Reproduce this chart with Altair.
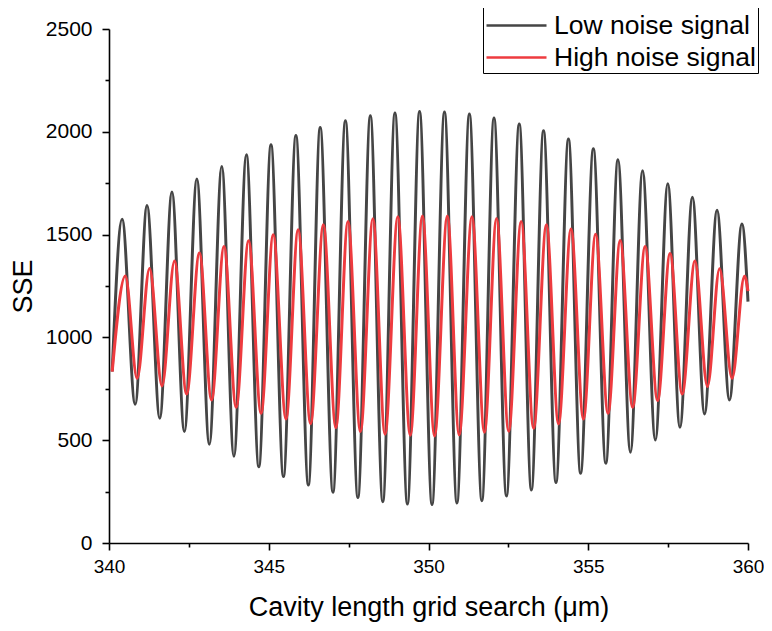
import altair as alt
import pandas as pd

# ---- data (extrema of each oscillation) ----
low_x = [340.10, 340.41, 340.82, 341.19, 341.59, 341.97, 342.36, 342.75, 343.14, 343.53,
         343.91, 344.30, 344.69, 345.07, 345.46, 345.85, 346.24, 346.61, 347.01, 347.40,
         347.79, 348.18, 348.57, 348.95, 349.34, 349.72, 350.11, 350.50, 350.89, 351.28,
         351.67, 352.05, 352.44, 352.84, 353.22, 353.60, 353.99, 354.38, 354.76, 355.16,
         355.55, 355.93, 356.32, 356.70, 357.10, 357.49, 357.87, 358.26, 358.64, 359.03,
         359.42, 359.81, 360.00]
low_y = [834, 1575, 675, 1642, 607, 1707, 542, 1771, 480, 1831,
         422, 1888, 371, 1937, 323, 1982, 282, 2021, 247, 2054,
         221, 2078, 201, 2091, 190, 2099, 187, 2096, 195, 2086,
         206, 2067, 229, 2038, 258, 2005, 294, 1965, 339, 1917,
         388, 1864, 441, 1810, 501, 1747, 563, 1682, 628, 1619,
         696, 1552, 1174]

high_x = [340.10, 340.51, 340.88, 341.27, 341.66, 342.05, 342.43, 342.83, 343.21, 343.60,
          343.98, 344.37, 344.76, 345.14, 345.54, 345.92, 346.31, 346.71, 347.10, 347.48,
          347.87, 348.26, 348.64, 349.04, 349.43, 349.81, 350.19, 350.59, 350.96, 351.36,
          351.75, 352.13, 352.51, 352.90, 353.29, 353.69, 354.07, 354.46, 354.85, 355.23,
          355.62, 356.00, 356.39, 356.78, 357.17, 357.56, 357.94, 358.34, 358.73, 359.11,
          359.50, 359.89, 360.00]
high_y = [834, 1299, 801, 1335, 764, 1372, 725, 1410, 696, 1442,
          660, 1470, 631, 1499, 603, 1523, 580, 1548, 561, 1564,
          542, 1577, 529, 1587, 524, 1591, 521, 1591, 526, 1587,
          539, 1578, 543, 1564, 558, 1548, 579, 1527, 603, 1502,
          631, 1471, 660, 1442, 693, 1408, 725, 1372, 761, 1334,
          801, 1298, 1225]

series_names = ["Low noise signal", "High noise signal"]
series_colors = ["#454545", "#ee3b3f"]

x_ticks = [340, 342.5, 345, 347.5, 350, 352.5, 355, 357.5, 360]
y_ticks = [0, 250, 500, 750, 1000, 1250, 1500, 1750, 2000, 2250, 2500]

df = pd.concat([
    pd.DataFrame({"x": low_x, "y": low_y, "series": series_names[0], "order": range(len(low_x))}),
    pd.DataFrame({"x": high_x, "y": high_y, "series": series_names[1], "order": range(len(high_x))}),
])

FONT = "Liberation Sans"

chart = alt.Chart(df).mark_line(interpolate="monotone", strokeWidth=3).encode(
    x=alt.X("x:Q",
            scale=alt.Scale(domain=[340, 360], nice=False, zero=False),
            axis=alt.Axis(values=x_ticks,
                          labelExpr="datum.value % 5 === 0 ? format(datum.value, 'd') : ''",
                          tickSize={"condition": {"test": "datum.value % 5 === 0", "value": 7}, "value": 4},
                          labelFontSize=19, labelPadding=7, titlePadding=18,
                          title="Cavity length grid search (μm)")),
    y=alt.Y("y:Q",
            scale=alt.Scale(domain=[0, 2500], nice=False),
            axis=alt.Axis(values=y_ticks,
                          labelExpr="datum.value % 500 === 0 ? format(datum.value, 'd') : ''",
                          tickSize={"condition": {"test": "datum.value % 500 === 0", "value": 7}, "value": 4},
                          labelFontSize=21, labelPadding=10, titlePadding=8,
                          title="SSE")),
    color=alt.Color("series:N",
                    scale=alt.Scale(domain=series_names, range=series_colors),
                    legend=alt.Legend(title=None, orient="none", legendX=374, legendY=-22,
                                      symbolType="M-1,0H3", symbolSize=900, symbolStrokeWidth=2.4,
                                      labelFontSize=26.5, labelFont=FONT, labelColor="black",
                                      labelLimit=0, strokeColor="black", fillColor="white",
                                      padding=2, rowPadding=2, labelOffset=36, cornerRadius=0)),
    order="order:Q",
).properties(
    width=639, height=514,
    autosize=alt.AutoSizeParams(type="none"),
    padding={"left": 101, "top": 21, "right": 16, "bottom": 80},
).configure_view(stroke=None).configure_axis(
    grid=False, domainColor="black", domainWidth=1.6, tickColor="black", tickWidth=1.6,
    labelFont=FONT, labelColor="black",
    titleFont=FONT, titleFontSize=27, titleFontWeight="normal", titleColor="black",
).configure_axisX(labelFlush=False)

chart.save("out.html", embed_options={"renderer": "svg", "actions": False})
